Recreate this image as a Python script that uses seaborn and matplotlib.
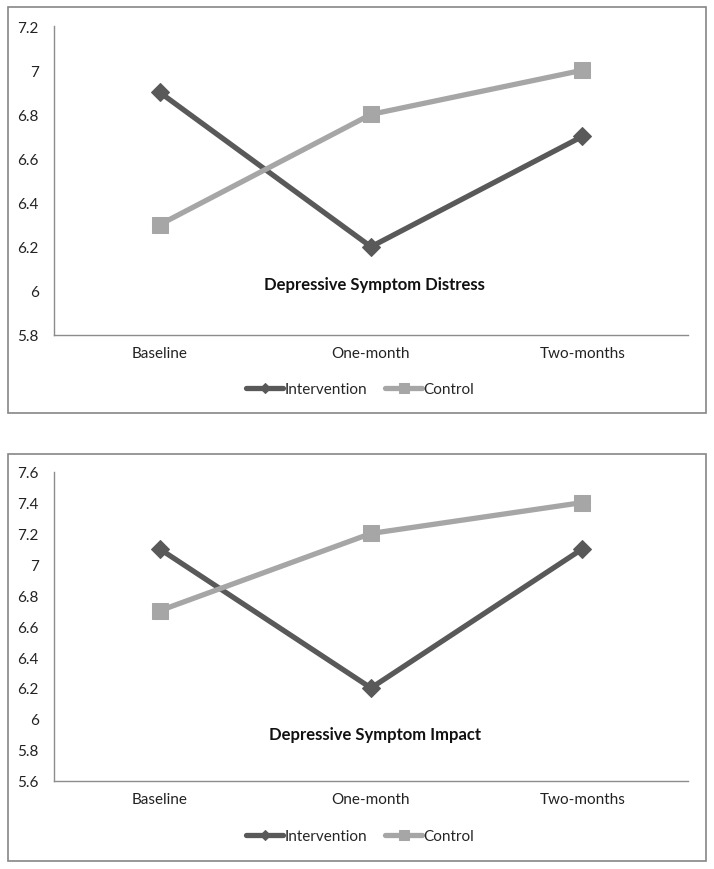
import matplotlib
matplotlib.use("Agg")
import matplotlib.pyplot as plt
from matplotlib.patches import Rectangle
import seaborn as sns
import pandas as pd

categories = ["Baseline", "One-month", "Two-months"]
groups = ["Intervention", "Control"]
distress_intervention = [6.9, 6.2, 6.7]
distress_control = [6.3, 6.8, 7.0]
impact_intervention = [7.1, 6.2, 7.1]
impact_control = [6.7, 7.2, 7.4]
distress_ticks = [5.8, 6.0, 6.2, 6.4, 6.6, 6.8, 7.0, 7.2]
impact_ticks = [5.6, 5.8, 6.0, 6.2, 6.4, 6.6, 6.8, 7.0, 7.2, 7.4, 7.6]

sns.set_theme(style="white")
plt.rcParams["font.family"] = ["Lato", "DejaVu Sans"]

palette = {"Intervention": "#595959", "Control": "#a6a6a6"}
markers = {"Intervention": "D", "Control": "s"}
sizes = {"Intervention": 9, "Control": 11}


def fmt(v):
    s = f"{v:.1f}"
    return s[:-2] if s.endswith(".0") else s


def make_df(inter, ctrl):
    rows = []
    for g, vals in zip(groups, [inter, ctrl]):
        for c, v in zip(categories, vals):
            rows.append({"Time": c, "Score": v, "Group": g})
    return pd.DataFrame(rows)


fig = plt.figure(figsize=(7.14, 8.7), dpi=100)
fig.patch.set_facecolor("white")

panels = [
    dict(df=make_df(distress_intervention, distress_control), ticks=distress_ticks,
         title="Depressive Symptom Distress", ax_rect=[0.0756, 0.6138, 0.888, 0.355],
         box=(0.0112, 0.524, 0.978, 0.4668), title_y=0.165, leg_y=-0.175),
    dict(df=make_df(impact_intervention, impact_control), ticks=impact_ticks,
         title="Depressive Symptom Impact", ax_rect=[0.0756, 0.1015, 0.888, 0.3552],
         box=(0.0112, 0.0092, 0.978, 0.4678), title_y=0.151, leg_y=-0.179),
]

for p in panels:
    fig.add_artist(Rectangle((p["box"][0], p["box"][1]), p["box"][2], p["box"][3],
                             transform=fig.transFigure, fill=False,
                             edgecolor="#868686", linewidth=1.2))
    ax = fig.add_axes(p["ax_rect"])
    for g in groups:
        d = p["df"][p["df"]["Group"] == g]
        sns.lineplot(data=d, x="Time", y="Score", ax=ax, color=palette[g],
                     marker=markers[g], markersize=sizes[g], markeredgecolor=palette[g],
                     linewidth=3.8, label=g, sort=False)
    ax.set_xlim(-0.5, 2.5)
    ax.set_ylim(p["ticks"][0], p["ticks"][-1])
    ax.set_yticks(p["ticks"])
    ax.set_yticklabels([fmt(t) for t in p["ticks"]])
    ax.set_xlabel("")
    ax.set_ylabel("")
    ax.tick_params(axis="y", length=0, pad=11, labelsize=11, colors="#222222")
    ax.tick_params(axis="x", length=0, pad=8, labelsize=11, colors="#222222")
    for s in ["top", "right"]:
        ax.spines[s].set_visible(False)
    for s in ["left", "bottom"]:
        ax.spines[s].set_color("#8c8c8c")
        ax.spines[s].set_linewidth(1.0)
    ax.grid(False)
    ax.text(0.506, p["title_y"], p["title"], transform=ax.transAxes, ha="center",
            va="center", fontsize=12, fontweight="bold", color="#111111")
    ax.legend(loc="center", bbox_to_anchor=(0.483, p["leg_y"]), ncol=2, frameon=False,
              fontsize=11, handlelength=2.4, handletextpad=0.1, columnspacing=1.2,
              markerscale=0.6)

fig.savefig("out.png", dpi=100, facecolor="white")
